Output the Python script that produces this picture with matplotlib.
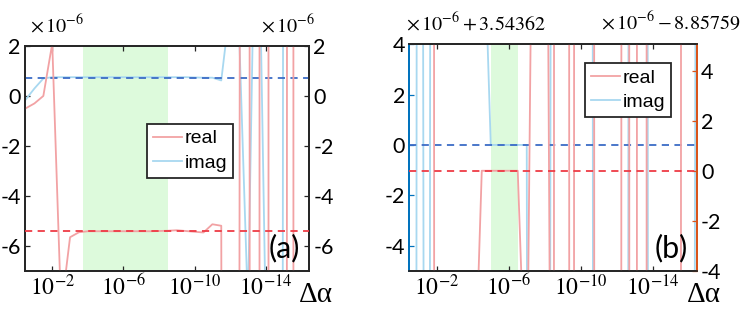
import numpy as np
import matplotlib
matplotlib.use("Agg")
import matplotlib.pyplot as plt
from matplotlib.ticker import FixedLocator, FixedFormatter

plt.rcParams["font.family"] = ["Lato", "DejaVu Sans"]
plt.rcParams["mathtext.fontset"] = "stix"
plt.rcParams["axes.unicode_minus"] = False

# sample points: exponent of delta alpha
log_da = [-0.5, -1.0, -1.5, -2.0, -2.5, -3.0, -3.5, -4.0, -4.5, -5.0, -5.5,
          -6.0, -6.5, -7.0, -7.5, -8.0, -8.5, -9.0, -9.5, -10.0, -10.5, -11.0,
          -11.5, -12.0, -12.5, -13.0, -13.5, -14.0, -14.5, -15.0, -15.5, -16.0, -16.5]

# panel (a), values in units of 1e-6
real_a = [-0.5, -0.3, 0.0, 2.1, -8.6, -5.66, -5.46, -5.42, -5.42, -5.42, -5.42,
          -5.42, -5.42, -5.42, -5.42, -5.41, -5.40, -5.38, -5.41, -5.44, -5.47, -5.14,
          -5.2, -200, -20, 260, -1120, 2600, -5800, -300, 480, -3900, -2000]
imag_a = [-0.15, 0.3, 0.7, 0.75, 0.75, 0.75, 0.75, 0.75, 0.75, 0.75, 0.75,
          0.75, 0.75, 0.75, 0.75, 0.75, 0.75, 0.75, 0.75, 0.74, 0.73, 0.73,
          0.62, 3.6, 2.6, -8.5, 12, -9, -300, 20, 20, 50, 30]
real_ref_a = -5.39
imag_ref_a = 0.73
span_a = (10**-3.72, 10**-8.49)

# panel (b), values in units of 1e-6 relative to the offsets
real_b = [600, 800, 700, -300, -200, -150, -60, -11.4, 0, 0, 0,
          0, 0, -10.4, 26, 30, -33, 1080, -420, 1190, 800, -800,
          -500, -600, 560, -840, 2520, -5110, -3000, -2000, -400, 2270, 1500]
imag_b = [-300, 100, -100, 300, 200, 150, 80, 40, 11.4, 0, 0,
          0, 0, 0, -200, -150, 87, 120, 200, 100, 150, -280,
          -300, -200, -150, 348, 200, -236, -300, -400, -200, -100, 38]
real_ref_b = 0.0
imag_ref_b = 0.0
span_b = (10**-5.02, 10**-6.5)

xticks = [1e-2, 1e-6, 1e-10, 1e-14]
xticklabels = [r"$10^{-2}$", r"$10^{-6}$", r"$10^{-10}$", r"$10^{-14}$"]

c_real = "#F2A2A4"
c_imag = "#A8D8F0"
c_real_ref = "#EE3B45"
c_imag_ref = "#3C6CC6"
c_green = "#DDFADC"
c_dark = "#262626"

x = 10.0 ** np.array(log_da)
xlim = (10**-0.47, 10**-16.45)

fig = plt.figure(figsize=(7.47, 3.29), dpi=100)
ax_a = fig.add_axes([0.0335, 0.1772, 0.3806, 0.6830])
ax_b = fig.add_axes([0.5479, 0.1772, 0.3848, 0.6881])


def setup(ax, ax2, ylim1, ylim2, yt1, yt2, span, label, off1, off2, colored):
    ax.set_xscale("log")
    ax.set_xlim(*xlim)
    ax.axvspan(span[0], span[1], color=c_green, lw=0, zorder=0)
    ax.set_ylim(*ylim1)
    ax2.set_ylim(*ylim2)
    ax.yaxis.set_major_locator(FixedLocator(yt1))
    ax2.yaxis.set_major_locator(FixedLocator(yt2))
    ax.yaxis.set_major_formatter(FixedFormatter([f"{v:g}" for v in yt1]))
    ax2.yaxis.set_major_formatter(FixedFormatter([f"{v:g}" for v in yt2]))
    ax.xaxis.set_major_locator(FixedLocator(xticks))
    ax.xaxis.set_major_formatter(FixedFormatter(xticklabels))
    ax.xaxis.set_minor_locator(FixedLocator([]))
    for a in (ax, ax2):
        a.tick_params(axis="both", direction="in", length=3.5, width=0.9,
                      labelsize=15.5, pad=3, top=True, colors=c_dark, labelcolor="black")
        for s in a.spines.values():
            s.set_linewidth(1.3)
            s.set_color(c_dark)
    ax.tick_params(axis="x", labelsize=17, pad=2)
    ax2.tick_params(axis="y", pad=3)
    if colored:
        ax.spines["left"].set_color("#0072BD")
        ax2.spines["left"].set_color("#0072BD")
        ax.spines["right"].set_color("#D95319")
        ax2.spines["right"].set_color("#D95319")
        ax.tick_params(axis="y", colors="#0072BD", labelcolor="black")
        ax2.tick_params(axis="y", colors="#D95319", labelcolor="black")
    ax.text(1.024, -0.138, "\u0394\u03b1", transform=ax.transAxes, ha="center", va="baseline",
            family="Liberation Serif", fontsize=21)
    ax2.text(0.911, 0.1, label, transform=ax.transAxes, ha="center", va="center", fontsize=22)
    ax.text(off1[0], off1[1], off1[2], transform=ax.transAxes, ha="left", va="center", fontsize=14.5)
    ax.text(off2[0], off2[1], off2[2], transform=ax.transAxes, ha="right", va="center", fontsize=14.5)


def add_legend(ax2, h_real, h_imag, anchor):
    leg = ax2.legend([h_real, h_imag], ["real", "imag"], loc="upper left",
                     bbox_to_anchor=anchor, borderaxespad=0,
                     prop={"family": "Liberation Sans", "size": 14},
                     fancybox=False, framealpha=1, edgecolor=c_dark, handlelength=1.5,
                     handletextpad=0.15, borderpad=0.3, labelspacing=0.35)
    leg.get_frame().set_linewidth(1.3)


# panel (a)
ax_a2 = ax_a.twinx()
h_imag, = ax_a.plot(x, imag_a, color=c_imag, lw=1.3, label="imag", zorder=2)
ax_a.axhline(imag_ref_a, color=c_imag_ref, lw=1.3, ls=(0, (4, 3)), zorder=3)
h_real, = ax_a2.plot(x, real_a, color=c_real, lw=1.3, label="real", zorder=2)
ax_a2.axhline(real_ref_a, color=c_real_ref, lw=1.3, ls=(0, (4, 3)), zorder=3)
setup(ax_a, ax_a2, (-7, 2), (-7, 2), [-6, -4, -2, 0, 2], [-6, -4, -2, 0, 2], span_a, "(a)",
      (0.018, 1.095, r"$\times\,10^{-6}$"), (1.02, 1.095, r"$\times\,10^{-6}$"), False)
add_legend(ax_a2, h_real, h_imag, (0.429, 0.653))

# panel (b)
ax_b2 = ax_b.twinx()
h_imag, = ax_b.plot(x, imag_b, color=c_imag, lw=1.3, label="imag", zorder=2)
ax_b.axhline(imag_ref_b, color=c_imag_ref, lw=1.3, ls=(0, (4, 3)), zorder=3)
h_real, = ax_b2.plot(x, real_b, color=c_real, lw=1.3, label="real", zorder=2)
ax_b2.axhline(real_ref_b, color=c_real_ref, lw=1.3, ls=(0, (4, 3)), zorder=3)
setup(ax_b, ax_b2, (-5, 4), (-4, 5.06), [-4, -2, 0, 2, 4], [-4, -2, 0, 2, 4], span_b, "(b)",
      (-0.011, 1.098, r"$\times\,10^{-6}+3.54362$"), (1.154, 1.098, r"$\times\,10^{-6}-8.85759$"), True)
add_legend(ax_b2, h_real, h_imag, (0.611, 0.916))

fig.savefig("out.png", dpi=100)
